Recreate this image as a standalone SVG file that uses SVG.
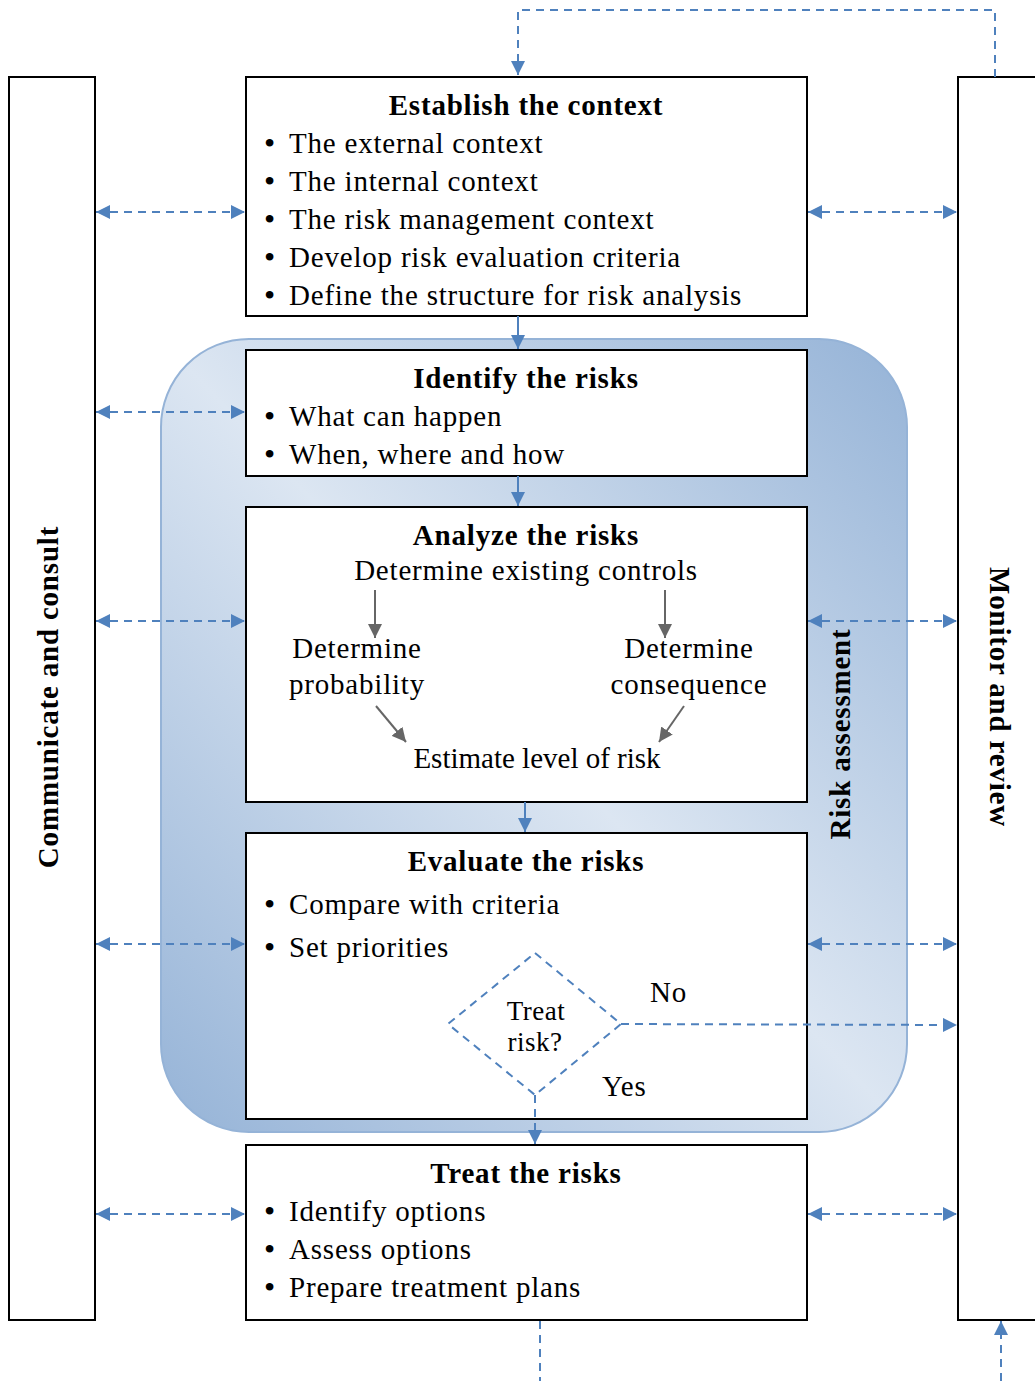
<svg xmlns="http://www.w3.org/2000/svg" width="1035" height="1381" viewBox="0 0 1035 1381">
<style>
text{font-family:"Liberation Serif","Times New Roman",serif;fill:#000}
.t{font-size:29px;font-weight:bold;text-anchor:middle;letter-spacing:0.8px}
.b{font-size:29px;letter-spacing:0.8px}
.c{font-size:29px;text-anchor:middle;letter-spacing:0.8px}
.d{font-size:32px}
.box{fill:#fff;stroke:#000;stroke-width:2}
.dl{fill:none;stroke:#4f81bd;stroke-width:2;stroke-dasharray:8 6}
.sl{fill:none;stroke:#4f81bd;stroke-width:2}
.gl{fill:none;stroke:#666;stroke-width:2}
</style>
<defs>
<linearGradient id="rg" x1="0" y1="1" x2="1" y2="0">
<stop offset="0" stop-color="#95b3d7"/>
<stop offset="0.5" stop-color="#dce6f2"/>
<stop offset="1" stop-color="#95b3d7"/>
</linearGradient>
<marker id="ab" viewBox="0 0 10 10" refX="10" refY="5" markerWidth="7" markerHeight="7" orient="auto-start-reverse" markerUnits="strokeWidth"><path d="M0,0L10,5L0,10z" fill="#4f81bd"/></marker>
<marker id="ag" viewBox="0 0 10 10" refX="10" refY="5" markerWidth="7" markerHeight="7" orient="auto" markerUnits="strokeWidth"><path d="M0,0L10,5L0,10z" fill="#666"/></marker>
</defs>
<rect x="0" y="0" width="1035" height="1381" fill="#fff"/>
<g id="risk-assessment">
<rect x="161" y="339" width="746" height="793" rx="88" fill="url(#rg)" stroke="#95b3d7" stroke-width="2"/>
<text class="t" transform="translate(850,734) rotate(-90)">Risk assessment</text>
</g>
<g id="communicate">
<rect class="box" x="9" y="77" width="86" height="1243"/>
<text class="t" transform="translate(58,697) rotate(-90)">Communicate and consult</text>
</g>
<g id="monitor">
<rect class="box" x="958" y="77" width="90" height="1243"/>
<text class="t" transform="translate(990,697) rotate(90)">Monitor and review</text>
</g>
<g id="establish">
<rect class="box" x="246" y="77" width="561" height="239"/>
<text class="t" x="526" y="115">Establish the context</text>
<text class="d" x="264" y="154">•</text><text class="b" x="289" y="153">The external context</text>
<text class="d" x="264" y="192">•</text><text class="b" x="289" y="191">The internal context</text>
<text class="d" x="264" y="230">•</text><text class="b" x="289" y="229">The risk management context</text>
<text class="d" x="264" y="268">•</text><text class="b" x="289" y="267">Develop risk evaluation criteria</text>
<text class="d" x="264" y="306">•</text><text class="b" x="289" y="305">Define the structure for risk analysis</text>
</g>
<g id="identify">
<rect class="box" x="246" y="350" width="561" height="126"/>
<text class="t" x="526" y="388">Identify the risks</text>
<text class="d" x="264" y="427">•</text><text class="b" x="289" y="426">What can happen</text>
<text class="d" x="264" y="465">•</text><text class="b" x="289" y="464">When, where and how</text>
</g>
<g id="analyze">
<rect class="box" x="246" y="507" width="561" height="295"/>
<text class="t" x="526" y="545">Analyze the risks</text>
<text class="c" x="526" y="580">Determine existing controls</text>
<text class="c" x="357" y="658">Determine</text>
<text class="c" x="357" y="694">probability</text>
<text class="c" x="689" y="658">Determine</text>
<text class="c" x="689" y="694">consequence</text>
<text class="c" x="537" y="768" style="letter-spacing:0">Estimate level of risk</text>
<path class="gl" d="M375,590V638" marker-end="url(#ag)"/>
<path class="gl" d="M665,590V638" marker-end="url(#ag)"/>
<path class="gl" d="M376,706L406,742" marker-end="url(#ag)"/>
<path class="gl" d="M684,706L659,742" marker-end="url(#ag)"/>
</g>
<g id="evaluate">
<rect class="box" x="246" y="833" width="561" height="286"/>
<text class="t" x="526" y="871">Evaluate the risks</text>
<text class="d" x="264" y="915">•</text><text class="b" x="289" y="914">Compare with criteria</text>
<text class="d" x="264" y="958">•</text><text class="b" x="289" y="957">Set priorities</text>
</g>
<g id="decision">
<path class="dl" d="M535,953L621,1024L535,1095L448,1024Z"/>
<text class="c" x="536" y="1020" style="font-size:27px;letter-spacing:0.5px">Treat</text>
<text class="c" x="535" y="1051" style="font-size:27px;letter-spacing:0.5px">risk?</text>
<text class="b" x="650" y="1002">No</text>
<text class="b" x="602" y="1096">Yes</text>
</g>
<g id="treat">
<rect class="box" x="246" y="1145" width="561" height="175"/>
<text class="t" x="526" y="1183">Treat the risks</text>
<text class="d" x="264" y="1222">•</text><text class="b" x="289" y="1221">Identify options</text>
<text class="d" x="264" y="1260">•</text><text class="b" x="289" y="1259">Assess options</text>
<text class="d" x="264" y="1298">•</text><text class="b" x="289" y="1297">Prepare treatment plans</text>
</g>
<g id="connectors">
<path class="dl" d="M995,77V10H518V75" marker-end="url(#ab)"/>
<path class="sl" d="M518,316V349" marker-end="url(#ab)"/>
<path class="sl" d="M518,476V506" marker-end="url(#ab)"/>
<path class="sl" d="M525,802V832" marker-end="url(#ab)"/>
<path class="dl" d="M535,1095V1144" marker-end="url(#ab)"/>
<path class="dl" d="M540,1321V1381"/>
<path class="dl" d="M1001,1381V1321" marker-end="url(#ab)"/>
<path class="dl" d="M621,1024L957,1025" marker-end="url(#ab)"/>
<path class="dl" d="M96,212H245" marker-start="url(#ab)" marker-end="url(#ab)"/>
<path class="dl" d="M96,412H245" marker-start="url(#ab)" marker-end="url(#ab)"/>
<path class="dl" d="M96,621H245" marker-start="url(#ab)" marker-end="url(#ab)"/>
<path class="dl" d="M96,944H245" marker-start="url(#ab)" marker-end="url(#ab)"/>
<path class="dl" d="M96,1214H245" marker-start="url(#ab)" marker-end="url(#ab)"/>
<path class="dl" d="M808,212H957" marker-start="url(#ab)" marker-end="url(#ab)"/>
<path class="dl" d="M808,621H957" marker-start="url(#ab)" marker-end="url(#ab)"/>
<path class="dl" d="M808,944H957" marker-start="url(#ab)" marker-end="url(#ab)"/>
<path class="dl" d="M808,1214H957" marker-start="url(#ab)" marker-end="url(#ab)"/>
</g>
</svg>
